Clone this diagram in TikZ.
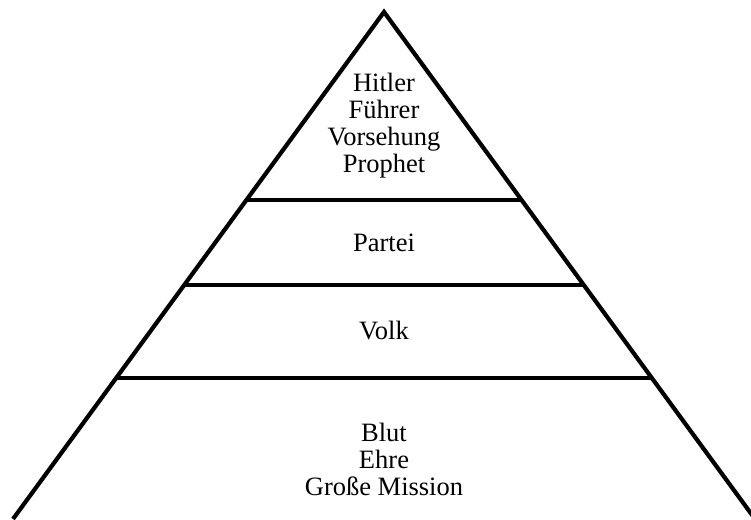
\documentclass[tikz,border=0pt]{standalone}
\usepackage{fontspec}
\setmainfont{Liberation Serif}
\begin{document}
\begin{tikzpicture}[x=1pt,y=-1pt,
  edge/.style={line width=4.2pt},
  lbl/.style={font=\fontsize{26.5}{27}\selectfont, align=center, anchor=base, inner sep=0pt}]
\useasboundingbox (0,0) rectangle (751,519);
\clip (0,0) rectangle (751,519);
\coordinate (apex) at (384,12);
\coordinate (bl) at (13,519);
\coordinate (br) at (755,519);
\coordinate (l1) at (246.4,200); \coordinate (r1) at (521.6,200);
\coordinate (l2) at (184.2,285); \coordinate (r2) at (583.8,285);
\coordinate (l3) at (116.2,378); \coordinate (r3) at (651.8,378);
\draw[edge, line join=miter] (bl) -- (apex) -- (br);
\draw[edge] (l1) -- (r1);
\draw[edge] (l2) -- (r2);
\draw[edge] (l3) -- (r3);
\node[lbl] (top) at (384,172) {Hitler\\Führer\\Vorsehung\\Prophet};
\node[lbl] (partei) at (384,251) {Partei};
\node[lbl] (volk) at (384,339) {Volk};
\node[lbl] (base) at (384,495) {Blut\\Ehre\\Große Mission};
\end{tikzpicture}
\end{document}
